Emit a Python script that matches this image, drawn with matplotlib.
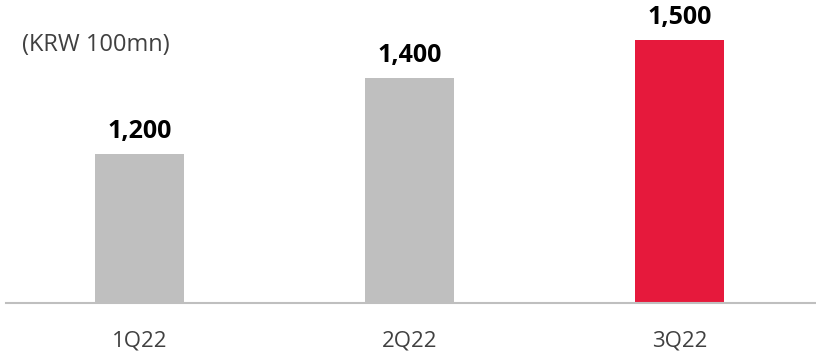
import matplotlib
matplotlib.use("Agg")
import matplotlib.pyplot as plt

categories = ["1Q22", "2Q22", "3Q22"]
values = [1200, 1400, 1500]
value_labels = ["1,200", "1,400", "1,500"]
colors = ["#BFBFBF", "#BFBFBF", "#E6193C"]
unit_label = "(KRW 100mn)"

plt.rcParams['font.family'] = ['Open Sans', 'DejaVu Sans']

fig = plt.figure(figsize=(8.16, 3.53), dpi=100)
ax = fig.add_axes([6/816, 50/353, 810/816, 303/353])

x = range(len(categories))
ax.bar(x, values, width=0.33, color=colors, bottom=0)
ax.set_ylim(808, 1605)
ax.set_xlim(-0.496, 2.504)

for xi, v, lab in zip(x, values, value_labels):
    ax.annotate(lab, (xi, v), xytext=(0, 16), textcoords='offset points',
                ha='center', va='center', fontsize=18, fontweight='bold',
                color='#000000')

ax.set_xticks(list(x))
ax.set_xticklabels(categories, fontsize=16, color='#404040')
ax.tick_params(axis='x', length=0, pad=20)
ax.set_yticks([])
for s in ['top', 'right', 'left']:
    ax.spines[s].set_visible(False)
ax.spines['bottom'].set_color('#BFBFBF')
ax.spines['bottom'].set_linewidth(1.5)

fig.text(22/816, 1 - 45/353, unit_label, fontsize=17, color='#404040',
         ha='left', va='center')

fig.savefig("out.png", dpi=100)
